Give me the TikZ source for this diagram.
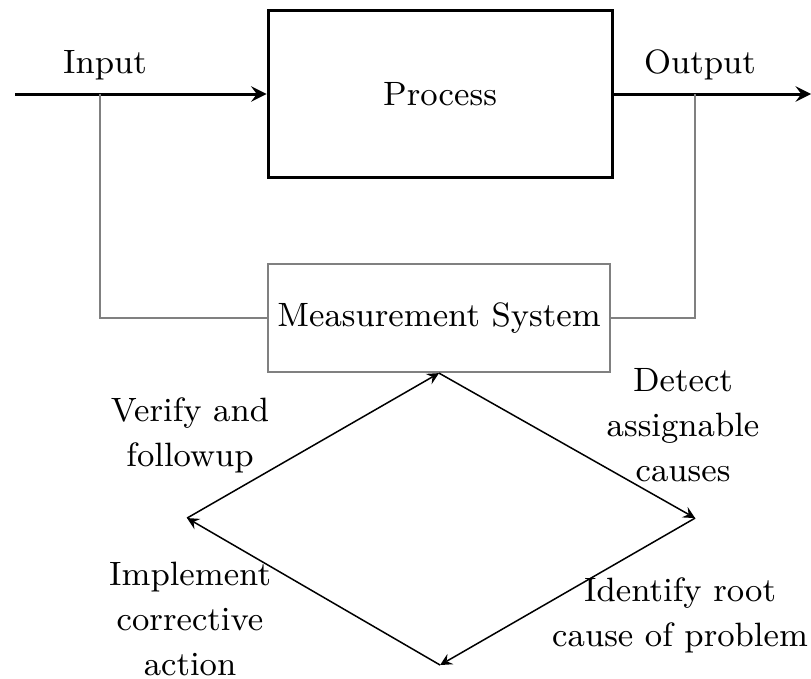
\documentclass[tikz,border=0pt]{standalone}
\usepackage{amsmath,amssymb}
\usepackage{tikz}

\begin{document}
\begin{tikzpicture}[>=stealth,every node/.style={font=\fontsize{9}{12}\selectfont}]
\useasboundingbox (0,0) rectangle (7.60,-6.354);
\node[draw,thick,minimum width=3.224cm,minimum height=1.574cm] (process) at (4.124,-0.881) {Process};
\node[draw=gray,semithick,inner xsep=2pt,minimum width=3.205cm,minimum height=1.012cm] (meas) at (4.114,-2.980) {Measurement System};
\coordinate (start) at (0.141,-0.881);
\coordinate (end) at (7.60,-0.881);
\coordinate (tapin) at (0.937,-0.881);
\coordinate (tapout) at (6.514,-0.881);
\draw[thick,->] (start) -- (process);
\draw[thick,->] (process) -- (end);
\node (input) at (0.984,-0.609) {Input};
\node (output) at (6.560,-0.609) {Output};
\draw[gray,semithick] (tapin) |- (meas.west);
\draw[gray,semithick] (tapout) |- (meas.east);
% the improvement loop
\coordinate (top) at (meas.south);
\coordinate (right) at (6.514,-4.855);
\coordinate (bottom) at (4.124,-6.232);
\coordinate (left) at (1.753,-4.855);
\foreach \a/\b in {top/right,right/bottom,bottom/left,left/top}
   \draw[->] (\a) -- (\b);
\node[align=center] (verify) at (1.781,-4.077) {Verify and\\followup};
\node[align=center] (detect) at (6.401,-3.983) {Detect\\assignable\\causes};
\node[align=center] (implement) at (1.781,-5.800) {Implement\\corrective\\action};
\node[align=center] (identify) at (6.373,-5.764) {Identify root\\cause of problem};
\end{tikzpicture}
\end{document}
